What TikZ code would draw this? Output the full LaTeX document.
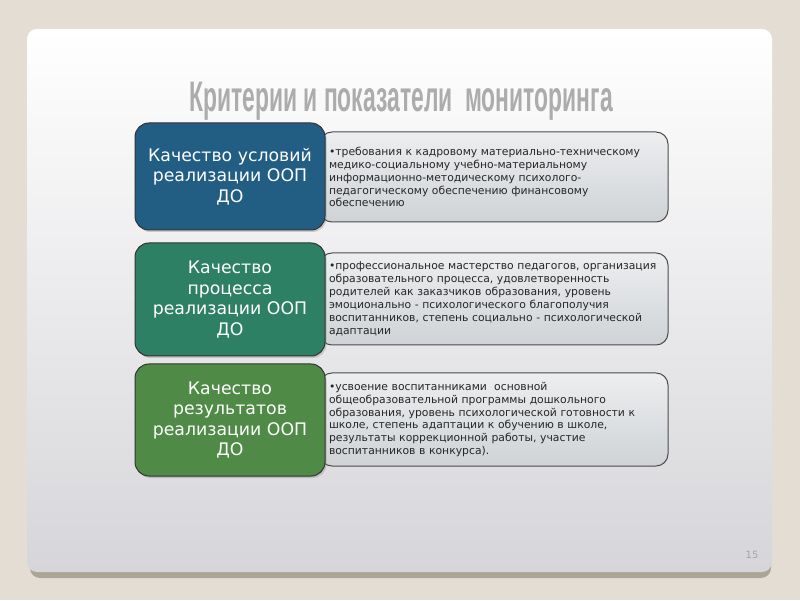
\documentclass[tikz,border=0pt]{standalone}
\usepackage{fontspec}
\setmainfont{DejaVu Sans}
\newfontfamily\headfont{Liberation Sans}
\usetikzlibrary{positioning,shadows}
\definecolor{pagebg}{HTML}{E3DDD3}
\definecolor{slidebot}{HTML}{D6D6DA}
\definecolor{slideshade}{HTML}{A9A597}
\definecolor{critblue}{HTML}{225D84}
\definecolor{critteal}{HTML}{2E8064}
\definecolor{critgreen}{HTML}{4F8A46}
\definecolor{infotop}{HTML}{EDEEF0}
\definecolor{infobot}{HTML}{CFD3D6}

\begin{document}
\begin{tikzpicture}[x=1pt,y=1pt,
  crit/.style={draw=black!80,line width=1pt,rounded corners=14pt,
    minimum width=190pt,inner sep=0pt,align=center,text=white,
    font=\fontsize{17.3}{20.5}\selectfont,
    drop shadow={opacity=.35,shadow xshift=1.5pt,shadow yshift=-2pt}},
  info/.style={draw=black!70,line width=1pt,rounded corners=12pt,
    top color=infotop,bottom color=infobot,minimum width=348pt,
    text width=330pt,inner xsep=9pt,align=left,text=black!85,
    font=\fontsize{10.8}{12.9}\selectfont}]
\useasboundingbox (0,0) rectangle (800,600);
\fill[pagebg] (0,0) rectangle (800,600);
\fill[slideshade,rounded corners=10pt] (30,22) rectangle (771,566);
\shade[top color=white,bottom color=slidebot,rounded corners=10pt]
  (27,28) rectangle (772,571);
\node[font=\headfont\bfseries\fontsize{44}{44}\selectfont,text=gray!65,
  xscale=.52,yscale=.97] (title) at (401,499) {Критерии и показатели\ \ мониторинга};
% right-hand boxes first, the left ones lie over their edge
\node[info,minimum height=90pt] (cond) at (494,423)
  {\hangindent=4pt\hangafter=1 •требования к кадровому материально-техническому\\
  медико-социальному учебно-материальному\\
  информационно-методическому психолого-\\
  педагогическому обеспечению финансовому\\
  обеспечению};
\node[info,minimum height=92pt] (proc) at (494,301)
  {\hangindent=4pt\hangafter=1 •профессиональное мастерство педагогов, организация\\
  образовательного\ процесса, удовлетворенность\\
  родителей как заказчиков образования, уровень\\
  эмоционально - психологического благополучия\\
  воспитанников, степень социально - психологической\\
  адаптации};
\node[info,minimum height=93pt] (res) at (494,180.5)
  {\hangindent=4pt\hangafter=1 •усвоение воспитанниками\ \ основной\\
  общеобразовательной программы дошкольного\\
  образования, уровень психологической готовности к\\
  школе, степень адаптации к обучению в школе,\\
  результаты коррекционной работы, участие\\
  воспитанников в конкурса).};
\node[crit,fill=critblue,minimum height=107pt] (qcond) at (230,423.5)
  {Качество условий\\реализации ООП\\ДО};
\node[crit,fill=critteal,minimum height=113pt] (qproc) at (230,300.5)
  {Качество\\процесса\\реализации ООП\\ДО};
\node[crit,fill=critgreen,minimum height=112pt] (qres) at (230,180)
  {Качество\\результатов\\реализации ООП\\ДО};
\node[text=gray!70,font=\fontsize{10}{10}\selectfont] (pageno) at (752,45) {15};
\end{tikzpicture}
\end{document}
